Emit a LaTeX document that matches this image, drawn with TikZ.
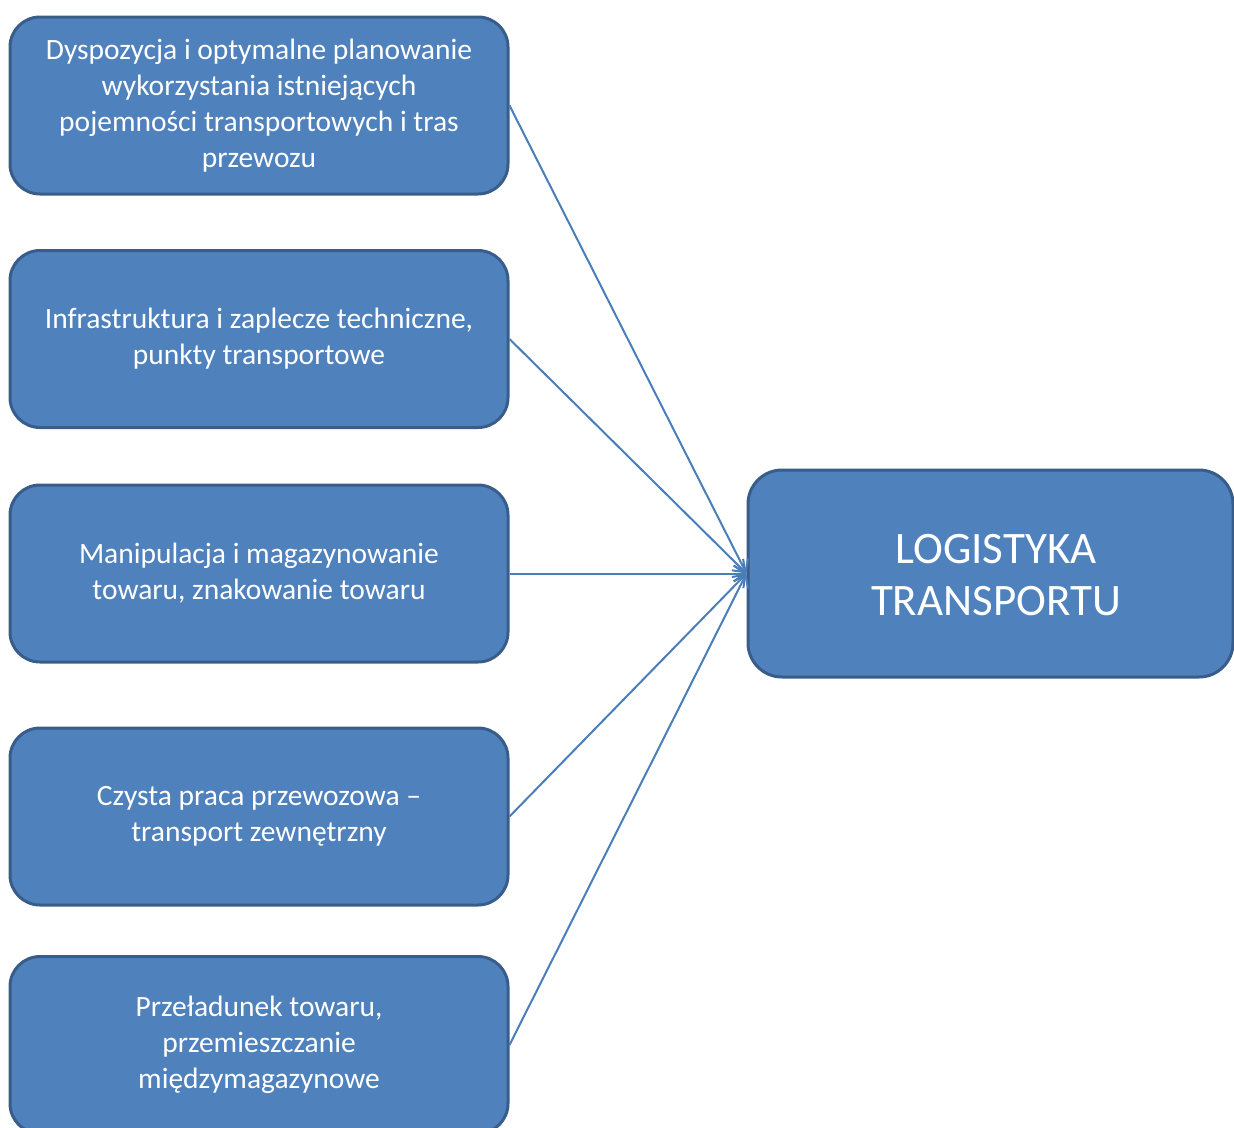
\documentclass[tikz,border=0pt]{standalone}
\usepackage{fontspec}
\setmainfont{Carlito}
\usetikzlibrary{arrows.meta}
\definecolor{boxfill}{HTML}{4F81BD}
\definecolor{boxline}{HTML}{385D8A}
\definecolor{conn}{HTML}{4A7EBB}
\tikzset{
  leftbox/.style={draw=boxline, fill=boxfill, line width=3pt, rounded corners=30pt,
    minimum width=498pt, minimum height=177pt, align=center, text=white,
    font=\fontsize{29.5}{36}\selectfont, inner sep=0pt},
  mainbox/.style={draw=boxline, fill=boxfill, line width=3pt, rounded corners=34pt,
    minimum width=485pt, minimum height=207pt, inner sep=0pt},
  conline/.style={draw=conn, line width=2pt, -{Straight Barb[length=11pt,width=16pt,line width=2pt]}}
}
\begin{document}
\begin{tikzpicture}[x=1pt,y=-1pt]
\useasboundingbox (0,0) rectangle (1234,1127);
\node[leftbox] (b1) at (259,105.5) {Dyspozycja i optymalne planowanie\\wykorzystania istniejących\\pojemności transportowych i tras\\przewozu};
\node[leftbox] (b2) at (259,339) {Infrastruktura i zaplecze techniczne,\\punkty transportowe};
\node[leftbox] (b3) at (259,573.5) {Manipulacja i magazynowanie\\towaru, znakowanie towaru};
\node[leftbox] (b4) at (259,816.5) {Czysta praca przewozowa –\\transport zewnętrzny};
\node[leftbox] (b5) at (259,1045) {Przeładunek towaru,\\przemieszczanie\\międzymagazynowe};
\node[mainbox] (m) at (990.5,573.5) {};
\node[text=white, align=center, font=\fontsize{45}{52}\selectfont] (mt) at (996,575) {LOGISTYKA\\TRANSPORTU};
\coordinate (tip) at (m.west);
\draw[conline] (b1.east) -- (tip);
\draw[conline] (b2.east) -- (tip);
\draw[conline] (b3.east) -- (tip);
\draw[conline] (b4.east) -- (tip);
\draw[conline] (b5.east) -- (tip);
\end{tikzpicture}
\end{document}
